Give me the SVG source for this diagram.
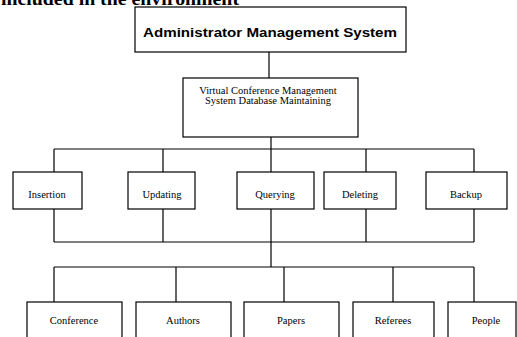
<svg xmlns="http://www.w3.org/2000/svg" width="517" height="337" viewBox="0 0 517 337">
  <style>
    .box { fill: #fff; stroke: #000; stroke-width: 1.2; }
    .wire { fill: none; stroke: #000; stroke-width: 1.2; }
    .lbl { font-family: "Liberation Serif", "Times New Roman", serif; font-size: 10.5px; fill: #000; text-anchor: middle; }
    .head { font-family: "Liberation Sans", Arial, sans-serif; font-weight: bold; font-size: 13.5px; fill: #000; text-anchor: middle; }
    .cap { font-family: "Liberation Serif", "Times New Roman", serif; font-weight: bold; font-size: 18px; fill: #000; }
  </style>
  <rect width="517" height="337" fill="#fff"/>

  <!-- heading line above the chart, clipped by the top edge -->
  <text class="cap" x="1" y="5" textLength="238" lengthAdjust="spacingAndGlyphs">included in the environment</text>

  <g id="connectors">
    <!-- root to database node -->
    <path class="wire" d="M269,52 V78"/>
    <!-- database node down through the operations row -->
    <path class="wire" d="M271,137 V267"/>
    <!-- upper bus of operations -->
    <path class="wire" d="M54,149 H474 M54,149 V172 M163,149 V172 M366,149 V172 M474,149 V172"/>
    <!-- lower bus of operations -->
    <path class="wire" d="M54,242 H474 M54,209 V242 M163,209 V242 M366,209 V242 M474,209 V242"/>
    <!-- bus to data entities -->
    <path class="wire" d="M54,267 H474 M54,267 V302 M176,267 V302 M284,267 V302 M393,267 V302 M474,267 V302"/>
  </g>

  <g id="admin">
    <rect class="box" x="135" y="7" width="271" height="45"/>
    <text class="head" x="270" y="37" textLength="254" lengthAdjust="spacingAndGlyphs">Administrator Management System</text>
  </g>

  <g id="database">
    <rect class="box" x="183" y="78" width="175" height="59"/>
    <text class="lbl" x="268" y="94">Virtual Conference Management</text>
    <text class="lbl" x="268" y="104">System Database Maintaining</text>
  </g>

  <g id="insertion">
    <rect class="box" x="13" y="172" width="69" height="37"/>
    <text class="lbl" x="47" y="198">Insertion</text>
  </g>
  <g id="updating">
    <rect class="box" x="128" y="172" width="67" height="37"/>
    <text class="lbl" x="162" y="198">Updating</text>
  </g>
  <g id="querying">
    <rect class="box" x="237" y="172" width="77" height="37"/>
    <text class="lbl" x="275" y="198">Querying</text>
  </g>
  <g id="deleting">
    <rect class="box" x="324" y="172" width="72" height="37"/>
    <text class="lbl" x="360" y="198">Deleting</text>
  </g>
  <g id="backup">
    <rect class="box" x="426" y="172" width="81" height="37"/>
    <text class="lbl" x="466" y="198">Backup</text>
  </g>

  <g id="conference">
    <rect class="box" x="27" y="302" width="95" height="40"/>
    <text class="lbl" x="74" y="324">Conference</text>
  </g>
  <g id="authors">
    <rect class="box" x="136" y="302" width="95" height="40"/>
    <text class="lbl" x="183" y="324">Authors</text>
  </g>
  <g id="papers">
    <rect class="box" x="244" y="302" width="95" height="40"/>
    <text class="lbl" x="291" y="324">Papers</text>
  </g>
  <g id="referees">
    <rect class="box" x="353" y="302" width="81" height="40"/>
    <text class="lbl" x="393" y="324">Referees</text>
  </g>
  <g id="people">
    <rect class="box" x="448" y="302" width="68" height="40"/>
    <text class="lbl" x="486" y="324">People</text>
  </g>
</svg>
